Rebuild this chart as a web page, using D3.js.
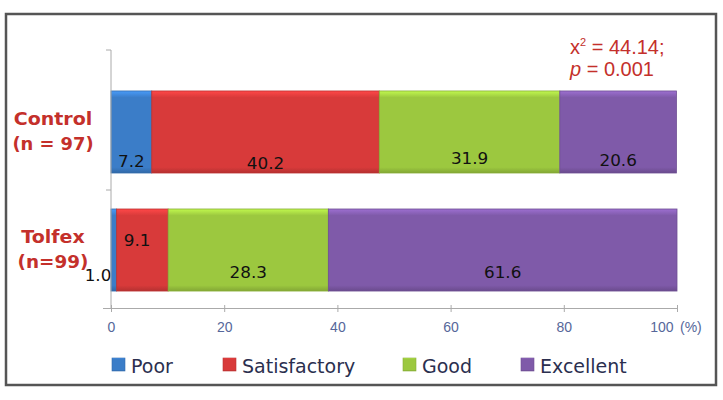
<!DOCTYPE html>
<html>
<head>
<meta charset="utf-8">
<script src="https://cdn.jsdelivr.net/npm/d3@7"></script>
<style>
  body { margin: 0; background: #fff; }
</style>
</head>
<body>
<svg id="chart"></svg>
<script>
const w = 723;
const h = 400;

const groups = ["Control", "Tolfex"];
const groupNs = ["(n = 97)", "(n=99)"];
const categories = ["Poor", "Satisfactory", "Good", "Excellent"];
const controlValues = [7.2, 40.2, 31.9, 20.6];
const tolfexValues = [1.0, 9.1, 28.3, 61.6];
const ticks = [0, 20, 40, 60, 80, 100];
const colors = ["#3b7dc8", "#d83a3a", "#9cc83f", "#7f5aa9"];

const wideFont = "DejaVu Sans, sans-serif";
const plainFont = "Liberation Sans, Arial, sans-serif";

var chart = d3.select("#chart")
  .attr("width", w)
  .attr("height", h);

// frame
chart.append("rect")
  .attr("x", 6).attr("y", 14)
  .attr("width", 710).attr("height", 371)
  .attr("fill", "#fff")
  .attr("stroke", "#555")
  .attr("stroke-width", 2.5);

const xScale = d3.scaleLinear().domain([0, 100]).range([111, 677]);
const yScale = d3.scaleBand().domain(groups).range([61, 321]).paddingInner(0.305).paddingOuter(0.254);

// gradients for bevel look
var defs = chart.append("defs");
colors.forEach(function(c, i) {
  var g = defs.append("linearGradient").attr("id", "g" + i)
    .attr("x1", 0).attr("y1", 0).attr("x2", 0).attr("y2", 1);
  g.append("stop").attr("offset", "0%").attr("stop-color", d3.color(c).brighter(0.6));
  g.append("stop").attr("offset", "8%").attr("stop-color", c);
  g.append("stop").attr("offset", "93%").attr("stop-color", c);
  g.append("stop").attr("offset", "100%").attr("stop-color", d3.color(c).darker(0.5));
});

const rows = [controlValues, tolfexValues];

rows.forEach(function(vals, r) {
  var cum = 0;
  var segs = vals.map(function(v, i) {
    var s = { start: cum, end: cum + v, value: v, i: i };
    cum += v;
    return s;
  });
  chart.append("g").selectAll("rect")
    .data(segs)
    .join("rect")
    .attr("x", d => xScale(d.start))
    .attr("y", yScale(groups[r]))
    .attr("width", d => xScale(d.end) - xScale(d.start))
    .attr("height", yScale.bandwidth())
    .attr("fill", d => "url(#g" + d.i + ")")
    .attr("stroke", d => d3.color(colors[d.i]).darker(0.4))
    .attr("stroke-width", 0.8);
});

function wideText(sel, x, y, anchor, sx) {
  return sel.append("text")
    .attr("transform", "translate(" + x + "," + y + ") scale(" + (sx || 1) + ",1)")
    .attr("text-anchor", anchor || "start")
    .attr("font-family", wideFont);
}

// value labels
const y0 = yScale("Control");
const y1 = yScale("Tolfex");
const labelPos = [
  { v: controlValues[0], x: xScale(3.6), y: y0 + 76 },
  { v: controlValues[1], x: xScale(7.2 + 40.2 / 2), y: y0 + 78 },
  { v: controlValues[2], x: xScale(47.4 + 31.9 / 2), y: y0 + 73 },
  { v: controlValues[3], x: xScale(79.3 + 20.6 / 2), y: y0 + 75 },
  { v: tolfexValues[0], x: xScale(-2.3), y: y1 + 72 },
  { v: tolfexValues[1], x: xScale(4.6), y: y1 + 37 },
  { v: tolfexValues[2], x: xScale(10.1 + 28.3 / 2), y: y1 + 69 },
  { v: tolfexValues[3], x: xScale(38.4 + 61.6 / 2), y: y1 + 69 }
];
var vl = chart.append("g");
labelPos.forEach(function(d) {
  wideText(vl, d.x, d.y, "middle", 1.12)
    .attr("font-size", 15)
    .attr("fill", "#111")
    .text(d.v.toFixed(1));
});

// x axis
const xAxis = d3.axisBottom(xScale).tickValues(ticks).tickSize(4).tickSizeOuter(0).tickFormat(d => d);
var xg = chart.append("g")
  .attr("transform", "translate(0, 308)")
  .call(xAxis);
xg.select(".domain").attr("stroke", "#aaa").attr("d", "M103,0.5H677.5");
xg.selectAll(".tick line").attr("stroke", "#aaa").attr("y1", -3);
xg.selectAll(".tick text")
  .attr("font-family", plainFont)
  .attr("font-size", 14)
  .attr("fill", "#56679a")
  .attr("dy", "1.2em");
xg.selectAll(".tick text").filter(d => d === 100)
  .attr("text-anchor", "end")
  .attr("dx", -4);
chart.append("text")
  .attr("x", xScale(100) + 3).attr("y", 332)
  .attr("font-family", plainFont)
  .attr("font-size", 14)
  .attr("fill", "#56679a")
  .text("(%)");

// y axis line with category ticks
chart.append("line")
  .attr("x1", 111).attr("x2", 111)
  .attr("y1", 50).attr("y2", 308)
  .attr("stroke", "#aaa");
[50, 190].forEach(function(y) {
  chart.append("line")
    .attr("x1", 106).attr("x2", 111)
    .attr("y1", y).attr("y2", y)
    .attr("stroke", "#aaa");
});

// group labels
const nScale = [1.05, 1.08];
groups.forEach(function(g, i) {
  var cy = yScale(g) + yScale.bandwidth() / 2;
  wideText(chart, 53, cy - 7, "middle", 1.12)
    .attr("font-size", 17).attr("font-weight", "bold")
    .attr("fill", "#c4302b")
    .text(g);
  wideText(chart, 53, cy + 18, "middle", nScale[i])
    .attr("font-size", 17).attr("font-weight", "bold")
    .attr("fill", "#c4302b")
    .text(groupNs[i]);
});

// annotation
var ann = chart.append("text")
  .attr("x", 570).attr("y", 54)
  .attr("font-family", plainFont)
  .attr("font-size", 20)
  .attr("fill", "#c4302b");
ann.append("tspan").text("x");
ann.append("tspan").attr("font-size", 11).attr("dy", -8).text("2");
ann.append("tspan").attr("dy", 8).text(" = 44.14;");
var ann2 = chart.append("text")
  .attr("x", 570).attr("y", 76)
  .attr("font-family", plainFont)
  .attr("font-size", 20)
  .attr("fill", "#c4302b");
ann2.append("tspan").attr("font-style", "italic").text("p");
ann2.append("tspan").text(" = 0.001");

// legend
const legendX = [112, 223, 403, 521];
var lg = chart.append("g").selectAll("g")
  .data(categories)
  .join("g")
  .attr("transform", (d, i) => "translate(" + legendX[i] + ", 358)");
lg.append("rect")
  .attr("width", 13).attr("height", 13)
  .attr("fill", (d, i) => "url(#g" + i + ")")
  .attr("stroke", (d, i) => d3.color(colors[i]).darker(0.4))
  .attr("stroke-width", 0.6);
lg.each(function(d) {
  wideText(d3.select(this), 19, 15, "start", 1)
    .attr("font-size", 19)
    .attr("fill", "#2b2f4f")
    .text(d);
});
</script>
</body>
</html>
